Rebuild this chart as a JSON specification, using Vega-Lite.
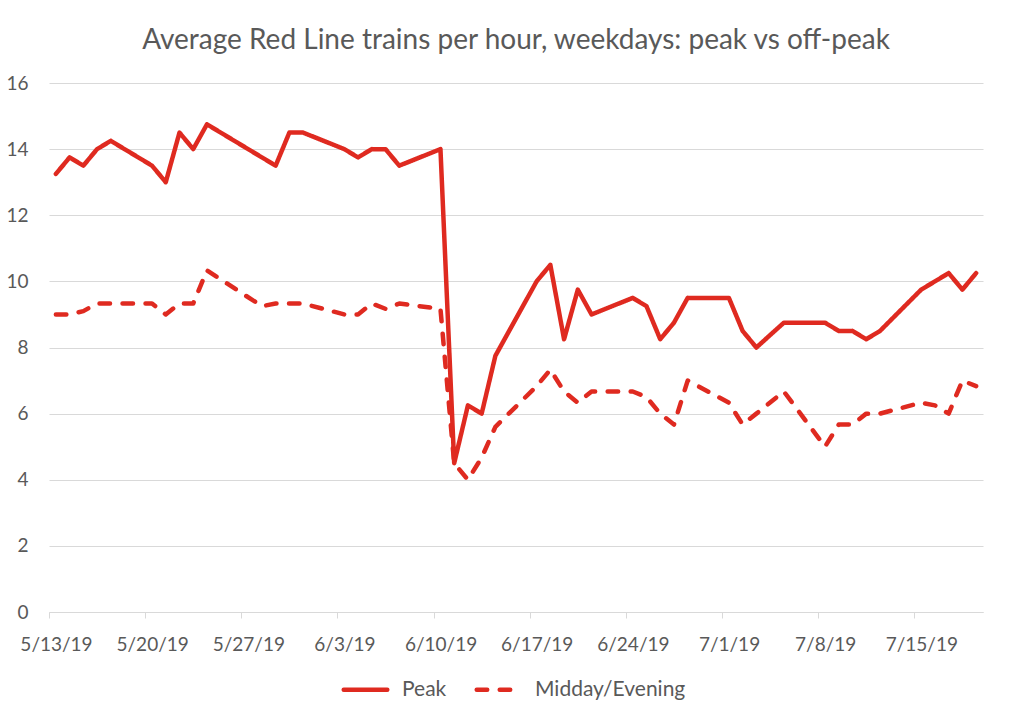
{
  "$schema": "https://vega.github.io/schema/vega-lite/v6.json",
  "width": 934,
  "height": 529,
  "autosize": {"type": "none"},
  "padding": {"left": 49, "top": 83, "right": 41, "bottom": 109},
  "background": "white",
  "title": {
    "text": "Average Red Line trains per hour, weekdays: peak vs off-peak",
    "font": "Lato",
    "fontSize": 28,
    "fontWeight": "normal",
    "color": "#595959",
    "anchor": "middle",
    "offset": 19
  },
  "config": {
    "view": {"stroke": null},
    "axis": {"labelFont": "Lato", "labelColor": "#595959"}
  },
  "data": {
    "values": [
      {"date": "2019-05-13T12:00", "series": "Peak", "value": 13.25},
      {"date": "2019-05-14T12:00", "series": "Peak", "value": 13.75},
      {"date": "2019-05-15T12:00", "series": "Peak", "value": 13.5},
      {"date": "2019-05-16T12:00", "series": "Peak", "value": 14},
      {"date": "2019-05-17T12:00", "series": "Peak", "value": 14.25},
      {"date": "2019-05-20T12:00", "series": "Peak", "value": 13.5},
      {"date": "2019-05-21T12:00", "series": "Peak", "value": 13},
      {"date": "2019-05-22T12:00", "series": "Peak", "value": 14.5},
      {"date": "2019-05-23T12:00", "series": "Peak", "value": 14},
      {"date": "2019-05-24T12:00", "series": "Peak", "value": 14.75},
      {"date": "2019-05-28T12:00", "series": "Peak", "value": 13.75},
      {"date": "2019-05-29T12:00", "series": "Peak", "value": 13.5},
      {"date": "2019-05-30T12:00", "series": "Peak", "value": 14.5},
      {"date": "2019-05-31T12:00", "series": "Peak", "value": 14.5},
      {"date": "2019-06-03T12:00", "series": "Peak", "value": 14},
      {"date": "2019-06-04T12:00", "series": "Peak", "value": 13.75},
      {"date": "2019-06-05T12:00", "series": "Peak", "value": 14},
      {"date": "2019-06-06T12:00", "series": "Peak", "value": 14},
      {"date": "2019-06-07T12:00", "series": "Peak", "value": 13.5},
      {"date": "2019-06-10T12:00", "series": "Peak", "value": 14},
      {"date": "2019-06-11T12:00", "series": "Peak", "value": 4.5},
      {"date": "2019-06-12T12:00", "series": "Peak", "value": 6.25},
      {"date": "2019-06-13T12:00", "series": "Peak", "value": 6},
      {"date": "2019-06-14T12:00", "series": "Peak", "value": 7.75},
      {"date": "2019-06-17T12:00", "series": "Peak", "value": 10},
      {"date": "2019-06-18T12:00", "series": "Peak", "value": 10.5},
      {"date": "2019-06-19T12:00", "series": "Peak", "value": 8.25},
      {"date": "2019-06-20T12:00", "series": "Peak", "value": 9.75},
      {"date": "2019-06-21T12:00", "series": "Peak", "value": 9},
      {"date": "2019-06-24T12:00", "series": "Peak", "value": 9.5},
      {"date": "2019-06-25T12:00", "series": "Peak", "value": 9.25},
      {"date": "2019-06-26T12:00", "series": "Peak", "value": 8.25},
      {"date": "2019-06-27T12:00", "series": "Peak", "value": 8.75},
      {"date": "2019-06-28T12:00", "series": "Peak", "value": 9.5},
      {"date": "2019-07-01T12:00", "series": "Peak", "value": 9.5},
      {"date": "2019-07-02T12:00", "series": "Peak", "value": 8.5},
      {"date": "2019-07-03T12:00", "series": "Peak", "value": 8},
      {"date": "2019-07-05T12:00", "series": "Peak", "value": 8.75},
      {"date": "2019-07-08T12:00", "series": "Peak", "value": 8.75},
      {"date": "2019-07-09T12:00", "series": "Peak", "value": 8.5},
      {"date": "2019-07-10T12:00", "series": "Peak", "value": 8.5},
      {"date": "2019-07-11T12:00", "series": "Peak", "value": 8.25},
      {"date": "2019-07-12T12:00", "series": "Peak", "value": 8.5},
      {"date": "2019-07-15T12:00", "series": "Peak", "value": 9.75},
      {"date": "2019-07-16T12:00", "series": "Peak", "value": 10},
      {"date": "2019-07-17T12:00", "series": "Peak", "value": 10.25},
      {"date": "2019-07-18T12:00", "series": "Peak", "value": 9.75},
      {"date": "2019-07-19T12:00", "series": "Peak", "value": 10.25},
      {"date": "2019-05-13T12:00", "series": "Midday/Evening", "value": 9},
      {"date": "2019-05-14T12:00", "series": "Midday/Evening", "value": 9},
      {"date": "2019-05-15T12:00", "series": "Midday/Evening", "value": 9.1},
      {"date": "2019-05-16T12:00", "series": "Midday/Evening", "value": 9.33},
      {"date": "2019-05-17T12:00", "series": "Midday/Evening", "value": 9.33},
      {"date": "2019-05-20T12:00", "series": "Midday/Evening", "value": 9.33},
      {"date": "2019-05-21T12:00", "series": "Midday/Evening", "value": 9},
      {"date": "2019-05-22T12:00", "series": "Midday/Evening", "value": 9.33},
      {"date": "2019-05-23T12:00", "series": "Midday/Evening", "value": 9.33},
      {"date": "2019-05-24T12:00", "series": "Midday/Evening", "value": 10.33},
      {"date": "2019-05-28T12:00", "series": "Midday/Evening", "value": 9.25},
      {"date": "2019-05-29T12:00", "series": "Midday/Evening", "value": 9.33},
      {"date": "2019-05-30T12:00", "series": "Midday/Evening", "value": 9.33},
      {"date": "2019-05-31T12:00", "series": "Midday/Evening", "value": 9.33},
      {"date": "2019-06-03T12:00", "series": "Midday/Evening", "value": 9},
      {"date": "2019-06-04T12:00", "series": "Midday/Evening", "value": 9},
      {"date": "2019-06-05T12:00", "series": "Midday/Evening", "value": 9.33},
      {"date": "2019-06-06T12:00", "series": "Midday/Evening", "value": 9.17},
      {"date": "2019-06-07T12:00", "series": "Midday/Evening", "value": 9.33},
      {"date": "2019-06-10T12:00", "series": "Midday/Evening", "value": 9.17},
      {"date": "2019-06-11T12:00", "series": "Midday/Evening", "value": 4.5},
      {"date": "2019-06-12T12:00", "series": "Midday/Evening", "value": 4},
      {"date": "2019-06-13T12:00", "series": "Midday/Evening", "value": 4.67},
      {"date": "2019-06-14T12:00", "series": "Midday/Evening", "value": 5.6},
      {"date": "2019-06-17T12:00", "series": "Midday/Evening", "value": 6.83},
      {"date": "2019-06-18T12:00", "series": "Midday/Evening", "value": 7.33},
      {"date": "2019-06-19T12:00", "series": "Midday/Evening", "value": 6.67},
      {"date": "2019-06-20T12:00", "series": "Midday/Evening", "value": 6.33},
      {"date": "2019-06-21T12:00", "series": "Midday/Evening", "value": 6.67},
      {"date": "2019-06-24T12:00", "series": "Midday/Evening", "value": 6.67},
      {"date": "2019-06-25T12:00", "series": "Midday/Evening", "value": 6.5},
      {"date": "2019-06-26T12:00", "series": "Midday/Evening", "value": 6},
      {"date": "2019-06-27T12:00", "series": "Midday/Evening", "value": 5.67},
      {"date": "2019-06-28T12:00", "series": "Midday/Evening", "value": 7},
      {"date": "2019-07-01T12:00", "series": "Midday/Evening", "value": 6.33},
      {"date": "2019-07-02T12:00", "series": "Midday/Evening", "value": 5.67},
      {"date": "2019-07-03T12:00", "series": "Midday/Evening", "value": 6},
      {"date": "2019-07-05T12:00", "series": "Midday/Evening", "value": 6.67},
      {"date": "2019-07-08T12:00", "series": "Midday/Evening", "value": 5},
      {"date": "2019-07-09T12:00", "series": "Midday/Evening", "value": 5.67},
      {"date": "2019-07-10T12:00", "series": "Midday/Evening", "value": 5.67},
      {"date": "2019-07-11T12:00", "series": "Midday/Evening", "value": 6},
      {"date": "2019-07-12T12:00", "series": "Midday/Evening", "value": 6},
      {"date": "2019-07-15T12:00", "series": "Midday/Evening", "value": 6.33},
      {"date": "2019-07-16T12:00", "series": "Midday/Evening", "value": 6.25},
      {"date": "2019-07-17T12:00", "series": "Midday/Evening", "value": 6},
      {"date": "2019-07-18T12:00", "series": "Midday/Evening", "value": 7},
      {"date": "2019-07-19T12:00", "series": "Midday/Evening", "value": 6.83}
    ]
  },
  "mark": {
    "type": "line",
    "color": "#df2a20",
    "strokeWidth": 4.5,
    "strokeCap": "round",
    "strokeJoin": "round"
  },
  "encoding": {
    "x": {
      "field": "date",
      "type": "temporal",
      "scale": {
        "domain": [
          {"year": 2019, "month": "may", "date": 13},
          {"year": 2019, "month": "jul", "date": 20}
        ]
      },
      "axis": {
        "title": null,
        "grid": false,
        "values": [
          {"year": 2019, "month": "may", "date": 13},
          {"year": 2019, "month": "may", "date": 20},
          {"year": 2019, "month": "may", "date": 27},
          {"year": 2019, "month": "jun", "date": 3},
          {"year": 2019, "month": "jun", "date": 10},
          {"year": 2019, "month": "jun", "date": 17},
          {"year": 2019, "month": "jun", "date": 24},
          {"year": 2019, "month": "jul", "date": 1},
          {"year": 2019, "month": "jul", "date": 8},
          {"year": 2019, "month": "jul", "date": 15}
        ],
        "format": "%-m/%-d/%y",
        "domainColor": "#d9d9d9",
        "domainWidth": 1,
        "tickColor": "#d9d9d9",
        "tickSize": 6,
        "labelFontSize": 19,
        "labelPadding": 17,
        "labelOffset": 7,
        "labelFlush": false,
        "labelOverlap": false
      }
    },
    "y": {
      "field": "value",
      "type": "quantitative",
      "scale": {"domain": [0, 16]},
      "axis": {
        "title": null,
        "values": [0, 2, 4, 6, 8, 10, 12, 14, 16],
        "domain": false,
        "ticks": false,
        "grid": true,
        "gridColor": "#d9d9d9",
        "gridWidth": 1,
        "labelFontSize": 19,
        "labelPadding": 21
      }
    },
    "strokeDash": {
      "field": "series",
      "type": "nominal",
      "scale": {
        "domain": ["Peak", "Midday/Evening"],
        "range": [[1, 0], [10.5, 12.5]]
      },
      "legend": {
        "title": null,
        "orient": "none",
        "legendX": 292,
        "legendY": 582,
        "direction": "horizontal",
        "symbolType": "stroke",
        "symbolSize": 1900,
        "symbolStrokeWidth": 4.5,
        "symbolStrokeColor": "#df2a20",
        "labelFont": "Lato",
        "labelFontSize": 21,
        "labelColor": "#595959",
        "labelOffset": 12,
        "columnPadding": 20,
        "encode": {
          "symbols": {"update": {"strokeCap": {"value": "round"}}}
        }
      }
    }
  }
}
